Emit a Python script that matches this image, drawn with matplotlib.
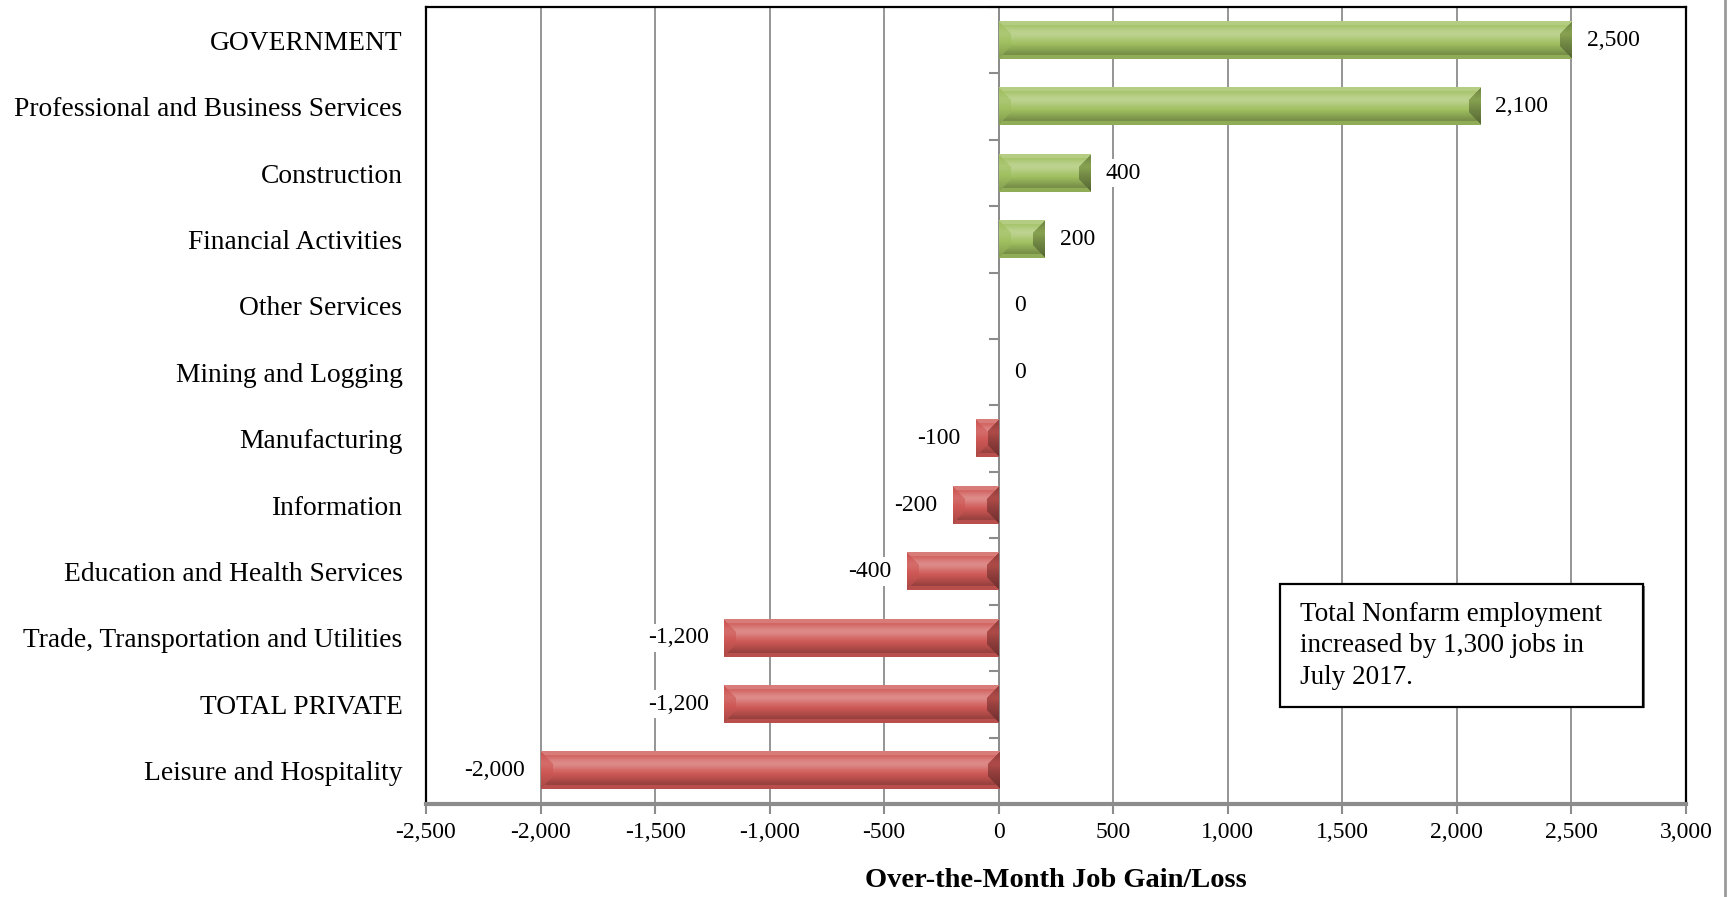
import numpy as np
import matplotlib
matplotlib.use('Agg')
import matplotlib.pyplot as plt
import matplotlib.patheffects as pe
from matplotlib.colors import to_rgb
from matplotlib.patches import Rectangle
from matplotlib.lines import Line2D
from matplotlib.ticker import FuncFormatter

plt.rcParams['font.family'] = ['Liberation Serif', 'DejaVu Serif']

# 数据（从上到下）
categories = ['GOVERNMENT', 'Professional and Business Services', 'Construction',
              'Financial Activities', 'Other Services', 'Mining and Logging',
              'Manufacturing', 'Information', 'Education and Health Services',
              'Trade, Transportation and Utilities', 'TOTAL PRIVATE',
              'Leisure and Hospitality']
values = [2500, 2100, 400, 200, 0, 0, -100, -200, -400, -1200, -1200, -2000]
x_ticks = [-2500, -2000, -1500, -1000, -500, 0, 500, 1000, 1500, 2000, 2500, 3000]
note_text = 'Total Nonfarm employment\nincreased by 1,300 jobs in\nJuly 2017.'

GREEN = '#a0c060'
RED = '#ce5855'
BAR_H = 0.56


def shade(base, f):
    # f>0 混白, f<0 混黑
    f = f[..., None]
    light = base + (1 - base) * np.clip(f, 0, 1)
    dark = base * (1 + np.clip(f, -1, 0))
    return np.where(f >= 0, light, dark)


def bevel_img(color, w, h):
    base = np.array(to_rgb(color))
    w = max(int(round(w)), 2)
    h = max(int(round(h)), 2)
    t = np.linspace(0, 1, h)[:, None] * np.ones((1, w))
    prof = (0.30 * np.exp(-((t - 0.32) / 0.18) ** 2)
            - 0.34 * np.clip((t - 0.55) / 0.40, 0, 1) ** 1.3)
    ii = np.arange(h)[:, None] * np.ones((1, w))
    jj = np.ones((h, 1)) * np.arange(w)[None, :]
    d = np.stack([ii, h - 1 - ii, jj, w - 1 - jj])
    k = np.argmin(d, axis=0)
    m = np.min(d, axis=0)
    bt = max(h * 0.09, 2.0)
    bs = min(12, w / 2.0)
    lim = np.array([bt, bt, bs, bs])[k]
    edge_f = np.array([0.22, -0.10, -0.02, -0.30])[k]
    f = np.where(m < lim, edge_f + 0.45 * prof * (k >= 2), prof)
    return shade(base, f)


fig = plt.figure(figsize=(17.31, 8.97), dpi=100)
ax = fig.add_axes([0.2461, 0.1037, 0.7279, 0.8885])

n = len(categories)
ypos = np.arange(n)[::-1]

ax.set_xlim(-2500, 3000)
ax.set_ylim(-0.5, n - 0.5)

# 网格线
ax.set_xticks(x_ticks)
ax.xaxis.set_major_formatter(FuncFormatter(lambda v, p: f'{int(v):,}'))
ax.grid(axis='x', color='#8c8c8c', linewidth=1.3)
ax.set_axisbelow(True)

# 像素尺度
fig.canvas.draw()
bbox = ax.get_window_extent()
ppx = bbox.width / 5500.0
ppy = bbox.height / float(n)

for y, v in zip(ypos, values):
    if v == 0:
        continue
    col = GREEN if v > 0 else RED
    img = bevel_img(col, abs(v) * ppx, BAR_H * ppy)
    ax.imshow(img, extent=(min(0, v), max(0, v), y - BAR_H / 2, y + BAR_H / 2),
              aspect='auto', interpolation='bilinear', zorder=3, origin='upper')

ax.set_xlim(-2500, 3000)
ax.set_ylim(-0.5, n - 0.5)

# 零轴及类别刻度
ax.axvline(0, color='#8c8c8c', linewidth=1.3, zorder=2)
bounds = np.arange(n + 1) - 0.5
ax.plot(np.zeros(len(bounds)), bounds, linestyle='none', marker=0,
        markersize=7, markeredgewidth=1.5, color='#8c8c8c', zorder=2, clip_on=False)

# 数值标注
for y, v in zip(ypos, values):
    off = 11 if v >= 0 else -11
    ax.annotate(f'{v:,}', xy=(v, y), xytext=(off, 0), textcoords='offset points',
                ha='left' if v >= 0 else 'right', va='center', fontsize=17,
                zorder=4,
                bbox=dict(boxstyle='square,pad=0.15', facecolor='white',
                          edgecolor='none'))

ax.set_yticks(ypos)
ax.set_yticklabels(categories, fontsize=19.8)
ax.tick_params(axis='y', length=0, pad=17)
ax.tick_params(axis='x', direction='out', length=7, width=1.5, color='#8c8c8c',
               labelsize=17, pad=6)

for s in ['top', 'left', 'right']:
    ax.spines[s].set_color('black')
    ax.spines[s].set_linewidth(1.6)
ax.spines['bottom'].set_color('#8c8c8c')
ax.spines['bottom'].set_linewidth(3)

ax.set_xlabel('Over-the-Month Job Gain/Loss', fontsize=20.5, fontweight='bold',
              labelpad=18)

# 说明框
box = Rectangle((0.678, 0.122), 0.288, 0.154, transform=ax.transAxes,
                facecolor='white', edgecolor='black', linewidth=1.6, zorder=5)
box.set_path_effects([pe.SimplePatchShadow(offset=(1.2, -1.2), shadow_rgbFace='#555555',
                                           alpha=0.8), pe.Normal()])
ax.add_patch(box)
ax.text(0.694, 0.254, note_text, transform=ax.transAxes, ha='left', va='top',
        fontsize=19.5, linespacing=1.36, zorder=6)

fig.add_artist(Line2D([0.9965, 0.9965], [0, 1], transform=fig.transFigure,
                      color='#9a9a9a', linewidth=2))

plt.savefig('out.png', dpi=100, facecolor='white')
